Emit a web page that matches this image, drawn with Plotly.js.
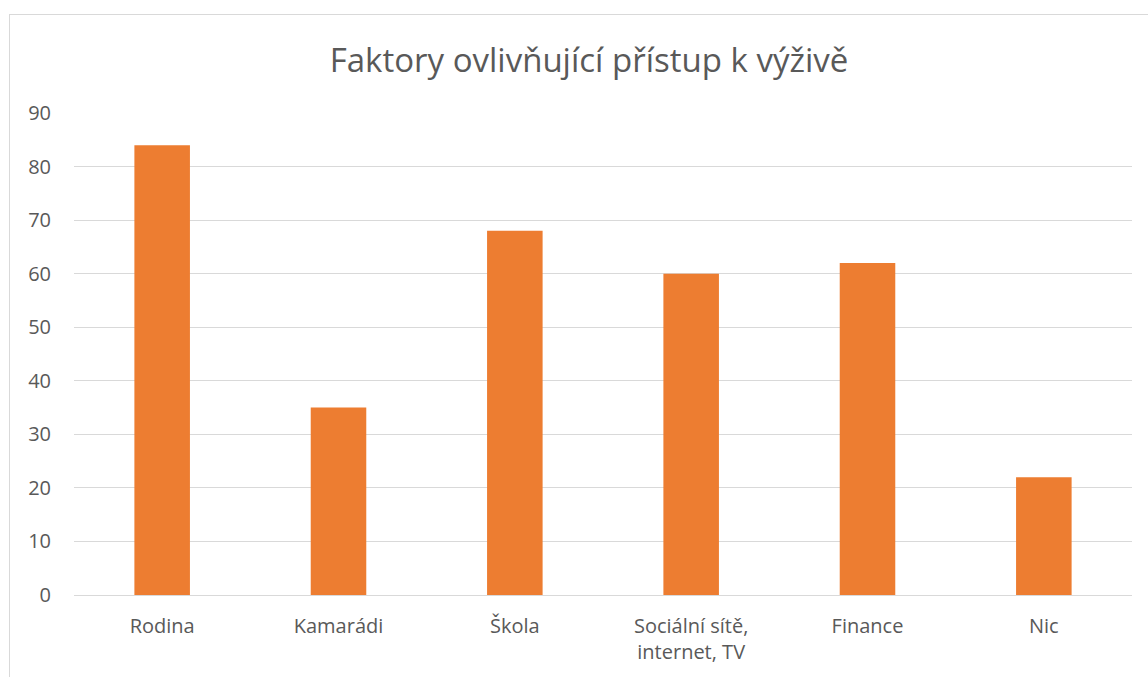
<!DOCTYPE html>
<html>
<head>
<meta charset="utf-8">
<script src="https://cdn.plot.ly/plotly-3.0.1.min.js"></script>
<style>
  html, body { margin: 0; padding: 0; background: #fff; overflow: hidden; }
  #wrap { position: relative; width: 1148px; height: 677px; }
  #chart { position: absolute; left: 0; top: 0; width: 1148px; height: 677px; }
  #frame { position: absolute; left: 9px; top: 14px; width: 1200px; height: 700px;
           border: 1px solid #d9d9d9; pointer-events: none; }
</style>
</head>
<body>
<div id="wrap">
  <div id="chart"></div>
  <div id="frame"></div>
</div>
<script>
const categories = ["Rodina", "Kamarádi", "Škola", "Sociální sítě,<br>internet, TV", "Finance", "Nic"];
const values = [84, 35, 68, 60, 62, 22];
const yTicks = [0, 10, 20, 30, 40, 50, 60, 70, 80, 90];
const chartTitle = "Faktory ovlivňující přístup k výživě";

const font = "'Open Sans', sans-serif";

Plotly.newPlot("chart", [{
  type: "bar",
  x: categories,
  y: values,
  marker: { color: "#ED7D31" },
  hoverinfo: "x+y"
}], {
  width: 1148, height: 677,
  margin: { l: 74, r: 16, t: 113, b: 82 },
  paper_bgcolor: "rgba(0,0,0,0)",
  plot_bgcolor: "rgba(0,0,0,0)",
  bargap: 0.685,
  showlegend: false,
  title: {
    text: chartTitle,
    font: { family: font, size: 33, color: "#595959" },
    x: 589 / 1148, xref: "container", xanchor: "center",
    y: 1 - 60 / 677, yref: "container", yanchor: "middle"
  },
  xaxis: {
    type: "category",
    tickfont: { family: font, size: 20, color: "#595959" },
    showgrid: false,
    showline: true, linecolor: "#d9d9d9", linewidth: 1,
    ticks: "outside", ticklen: 13, tickcolor: "rgba(0,0,0,0)",
    fixedrange: true
  },
  yaxis: {
    range: [0, 90],
    tickvals: yTicks,
    ticktext: yTicks.map(String),
    tickfont: { family: font, size: 20, color: "#595959" },
    showgrid: true, gridcolor: "#d9d9d9", gridwidth: 1,
    zeroline: false, showline: false,
    ticks: "outside", ticklen: 18, tickcolor: "rgba(0,0,0,0)",
    fixedrange: true
  }
}, { displayModeBar: false, staticPlot: true });
</script>
</body>
</html>
